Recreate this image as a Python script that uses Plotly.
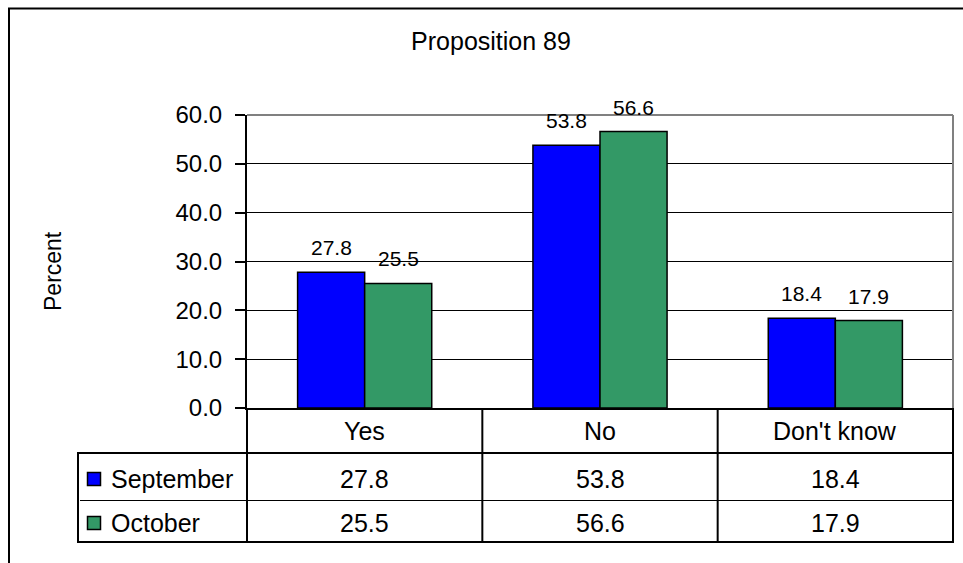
import plotly.graph_objects as go

# ---- data ----
title_text = "Proposition 89"
categories = ["Yes", "No", "Don't know"]
series_names = ["September", "October"]
september = [27.8, 53.8, 18.4]
october = [25.5, 56.6, 17.9]
series_values = [september, october]
series_colors = ["#0000FF", "#339966"]
y_ticks = [0, 10, 20, 30, 40, 50, 60]
y_title = "Percent"

# ---- layout geometry (pixels) ----
W, H = 963, 563
PL, PR, PT, PB = 247, 953, 115, 408  # plot area box
FONT = "Arial, Liberation Sans, sans-serif"
BARGAP = 0.43


def px_x(px):
    return (px - PL) / (PR - PL)


def px_y(py):
    return (PB - py) / (PB - PT)


fig = go.Figure()
for name, vals, col in zip(series_names, series_values, series_colors):
    fig.add_trace(go.Bar(
        x=categories, y=vals, name=name,
        marker=dict(color=col, line=dict(color="black", width=1.5)),
        showlegend=False, hoverinfo="x+y+name",
    ))

annotations = []
shapes = []

# data labels above bars
bar_w = (1 - BARGAP) / len(series_names)
for i, vals in enumerate(series_values):
    off = (i - (len(series_names) - 1) / 2) * bar_w
    for j, v in enumerate(vals):
        annotations.append(dict(
            x=j + off, y=v, xref="x", yref="y", text=f"{v:.1f}",
            showarrow=False, yanchor="bottom", xanchor="center", yshift=11,
            font=dict(family=FONT, size=21, color="black"),
        ))

# y-axis title
annotations.append(dict(
    x=px_x(53), y=px_y(271), xref="paper", yref="paper", text=y_title,
    textangle=-90, showarrow=False, xanchor="center", yanchor="middle",
    font=dict(family=FONT, size=23, color="black"),
))

# ---- data table ----
row_cat_mid = 430.5
row_mids = [479, 523]
ncat = len(categories)
for j, c in enumerate(categories):
    annotations.append(dict(
        x=c, y=px_y(row_cat_mid), xref="x", yref="paper", text=c,
        showarrow=False, xanchor="center", yanchor="middle",
        font=dict(family=FONT, size=25, color="black"),
    ))
    for r, vals in enumerate(series_values):
        annotations.append(dict(
            x=c, y=px_y(row_mids[r]), xref="x", yref="paper", text=f"{vals[j]:.1f}",
            showarrow=False, xanchor="center", yanchor="middle",
            font=dict(family=FONT, size=25, color="black"),
        ))

for r, (name, col) in enumerate(zip(series_names, series_colors)):
    annotations.append(dict(
        x=px_x(109), y=px_y(row_mids[r]), xref="paper", yref="paper", text=name,
        showarrow=False, xanchor="left", yanchor="middle",
        font=dict(family=FONT, size=25, color="black"),
    ))
    shapes.append(dict(
        type="rect", xref="paper", yref="paper",
        x0=px_x(87.5), x1=px_x(100.5),
        y0=px_y(row_mids[r] + 6.5), y1=px_y(row_mids[r] - 6.5),
        fillcolor=col, line=dict(color="black", width=1.5), layer="above",
    ))

TBL_LEFT, ROW1_TOP, ROW2_TOP, TBL_BOT = 78, 453, 500.5, 542


def hline(x0, x1, y, w, color="black"):
    shapes.append(dict(type="line", xref="paper", yref="paper",
                       x0=px_x(x0), x1=px_x(x1), y0=px_y(y), y1=px_y(y),
                       line=dict(color=color, width=w), layer="above"))


def vline(x, y0, y1, w, color="black"):
    shapes.append(dict(type="line", xref="paper", yref="paper",
                       x0=px_x(x), x1=px_x(x), y0=px_y(y0), y1=px_y(y1),
                       line=dict(color=color, width=w), layer="above"))


# column borders (category boundaries on the axis)
for k in range(ncat + 1):
    vline(PL + (PR - PL) * k / ncat, PB, TBL_BOT, 2)
vline(TBL_LEFT, ROW1_TOP, TBL_BOT, 2)
hline(TBL_LEFT - 1, PR + 1, ROW1_TOP, 2)
hline(TBL_LEFT + 2, PR, ROW2_TOP, 1)
hline(TBL_LEFT - 1, PR + 1, TBL_BOT, 2)

# gray plot-area border (top and right)
hline(PL, PR, PT, 2, "#808080")
vline(PR, PT, PB, 2, "#808080")

# outer chart border
shapes.append(dict(type="rect", xref="paper", yref="paper",
                   x0=px_x(9), x1=px_x(1100), y0=px_y(700), y1=px_y(8.5),
                   line=dict(color="black", width=2), fillcolor="rgba(0,0,0,0)", layer="above"))

fig.update_layout(
    width=W, height=H,
    margin=dict(l=PL, r=W - PR, t=PT, b=H - PB, pad=0, autoexpand=False),
    paper_bgcolor="white", plot_bgcolor="white",
    barmode="group", bargap=BARGAP, bargroupgap=0,
    title=dict(text=title_text, x=491 / W, y=1 - 41 / H, xref="container", yref="container",
               xanchor="center", yanchor="middle",
               font=dict(family=FONT, size=25, color="black")),
    font=dict(family=FONT, color="black"),
    annotations=annotations, shapes=shapes,
    xaxis=dict(showline=True, linecolor="black", linewidth=2, showticklabels=False,
               ticks="", showgrid=False, zeroline=False, range=[-0.5, 2.5]),
    yaxis=dict(range=[0, 60], tickvals=y_ticks, tickformat=".1f",
               showline=True, linecolor="black", linewidth=2,
               ticks="outside", ticklen=10, tickwidth=2, tickcolor="black",
               ticklabelstandoff=8,
               showgrid=True, gridcolor="black", gridwidth=1, zeroline=False,
               tickfont=dict(family=FONT, size=24, color="black")),
)

fig.write_html(
    "out.html",
    config={"displayModeBar": False},
    post_script="document.body.style.margin='0';document.body.style.overflow='hidden';",
)
